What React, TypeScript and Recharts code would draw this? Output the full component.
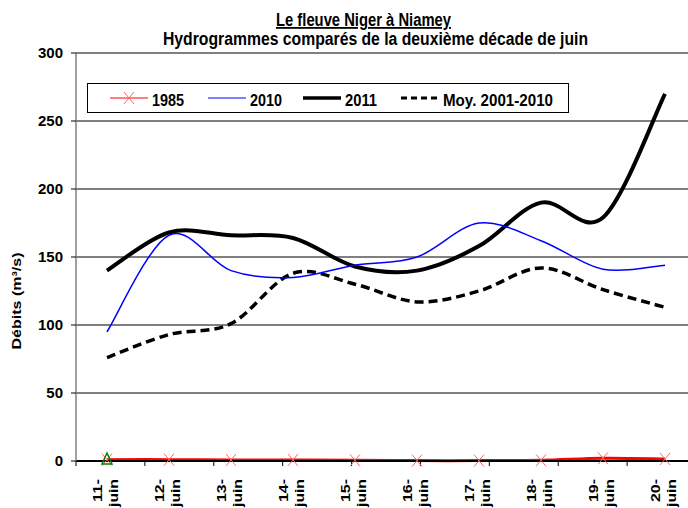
import React from 'react';
import { CartesianGrid, Legend, Line, LineChart, ReferenceLine, XAxis, YAxis } from 'recharts';

const jours = ['11-juin', '12-juin', '13-juin', '14-juin', '15-juin', '16-juin', '17-juin', '18-juin', '19-juin', '20-juin'];
const debit1985 = [1, 1, 0.8, 0.8, 0.5, 0.3, 0.3, 0.5, 2, 1.5];
const debit2010 = [95, 166, 140, 135, 144, 150, 175, 162, 141, 144];
const debit2011 = [140, 168, 166, 164, 143, 140, 158, 190, 179, 270];
const moyenne = [76, 93, 101, 138, 130, 117, 125, 142, 126, 113];
const autre = [0, null, null, null, null, null, null, null, null, null];
const yTicks = [0, 50, 100, 150, 200, 250, 300];

const donnees = jours.map((jour, i) => ({
	jour,
	a1985: debit1985[i],
	a2010: debit2010[i],
	a2011: debit2011[i],
	moy: moyenne[i],
	autre: autre[i],
}));

// limites entre jours pour les graduations de l'axe X
const bornes = jours.map((_, i) => i).concat(jours.length);

const police = 'Liberation Sans, Arial, sans-serif';

// lissage façon Excel (Catmull-Rom -> Bézier)
function courbeLissee(context: any) {
	let pts: number[][] = [];
	return {
		areaStart() {},
		areaEnd() {},
		lineStart() {
			pts = [];
		},
		point(x: number, y: number) {
			pts.push([+x, +y]);
		},
		lineEnd() {
			const n = pts.length;
			if (!n) return;
			context.moveTo(pts[0][0], pts[0][1]);
			for (let i = 0; i < n - 1; i++) {
				const p0 = pts[Math.max(i - 1, 0)];
				const p1 = pts[i];
				const p2 = pts[i + 1];
				const p3 = pts[Math.min(i + 2, n - 1)];
				context.bezierCurveTo(
					p1[0] + (p2[0] - p0[0]) / 6,
					p1[1] + (p2[1] - p0[1]) / 6,
					p2[0] - (p3[0] - p1[0]) / 6,
					p2[1] - (p3[1] - p1[1]) / 6,
					p2[0],
					p2[1],
				);
			}
		},
	};
}

function Croix(props: any) {
	const { cx, cy, index, value } = props;
	if (cy == null || value == null) return <g key={index} />;
	return (
		<path
			key={index}
			d={`M${cx - 5},${cy - 6}L${cx + 5},${cy + 6}M${cx + 5},${cy - 6}L${cx - 5},${cy + 6}`}
			stroke="#FF6666"
			strokeWidth={1}
			fill="none"
		/>
	);
}

function Triangle(props: any) {
	const { cx, cy, index, value } = props;
	if (cy == null || value == null) return <g key={index} />;
	return (
		<path
			key={index}
			d={`M${cx},${cy - 8}L${cx + 5},${cy + 3}L${cx - 5},${cy + 3}Z`}
			stroke="#008000"
			strokeWidth={1.5}
			fill="none"
		/>
	);
}

function TickJour(props: any) {
	const { x, payload } = props;
	const [num, mois] = String(payload.value).split('-');
	const style = { fontFamily: police, fontWeight: 'bold' as const, fontSize: 13 };
	return (
		<g>
			<text transform={`translate(${x - 5},479) rotate(-90)`} x={-23} style={style} textLength={23} lengthAdjust="spacingAndGlyphs">
				{num}-
			</text>
			<text transform={`translate(${x + 11},479) rotate(-90)`} x={-28} style={style} textLength={28} lengthAdjust="spacingAndGlyphs">
				{mois}
			</text>
		</g>
	);
}

const ordreLegende = ['a1985', 'a2010', 'a2011', 'moy'];
const placeLegende: Record<string, { x: number; len: number }> = {
	a1985: { x: 23, len: 32 },
	a2010: { x: 121, len: 32 },
	a2011: { x: 216, len: 32 },
	moy: { x: 314, len: 110 },
};

function Legende(props: any) {
	const items = [...(props.payload || [])]
		.filter((p: any) => ordreLegende.includes(p.dataKey))
		.sort((a: any, b: any) => ordreLegende.indexOf(a.dataKey) - ordreLegende.indexOf(b.dataKey));
	return (
		<svg width={482} height={30} style={{ display: 'block' }}>
			<rect x={0.5} y={0.5} width={481} height={29} fill="#fff" stroke="#000" strokeWidth={1} />
			{items.map((it: any) => {
				const pl = placeLegende[it.dataKey];
				const x0 = pl.x;
				const x1 = pl.x + 38;
				let trait;
				if (it.dataKey === 'a1985') {
					trait = (
						<g>
							<line x1={x0} x2={x1} y1={15} y2={15} stroke={it.color} strokeWidth={1} />
							<path d={`M${x0 + 14},${9}L${x0 + 24},${21}M${x0 + 24},${9}L${x0 + 14},${21}`} stroke="#FF6666" strokeWidth={1} />
						</g>
					);
				} else if (it.dataKey === 'a2010') {
					trait = <line x1={x0} x2={x1} y1={15} y2={15} stroke={it.color} strokeWidth={1} />;
				} else if (it.dataKey === 'a2011') {
					trait = <line x1={x0} x2={x1} y1={15} y2={15} stroke={it.color} strokeWidth={3.5} />;
				} else {
					trait = <line x1={x0} x2={x1} y1={15} y2={15} stroke={it.color} strokeWidth={3} strokeDasharray="6 4" />;
				}
				return (
					<g key={it.dataKey}>
						{trait}
						<text
							x={x1 + 4}
							y={23}
							fontFamily={police}
							fontWeight="bold"
							fontSize={17}
							textLength={pl.len}
							lengthAdjust="spacingAndGlyphs"
						>
							{it.value}
						</text>
					</g>
				);
			})}
		</svg>
	);
}

export default function App() {
	return (
		<div style={{ position: 'absolute', left: 0, top: 0, width: 688, height: 508, overflow: 'hidden', background: '#fff' }}>
			<LineChart width={720} height={508} data={donnees} margin={{ top: 53, right: 24, left: 6, bottom: 0 }}>
				<CartesianGrid vertical={false} stroke="#000" strokeWidth={1} />
				<ReferenceLine y={300} stroke="#808080" strokeWidth={1.5} />
				<XAxis
					dataKey="jour"
					interval={0}
					height={47}
					padding={{ left: 31, right: 31 }}
					tickLine={false}
					axisLine={{ stroke: '#000', strokeWidth: 2 }}
					tick={<TickJour />}
				/>
				<XAxis xAxisId="bornes" type="number" domain={[0, jours.length]} allowDataOverflow hide />
				{bornes.map((b) => (
					<ReferenceLine
						key={b}
						xAxisId="bornes"
						segment={[
							{ x: b, y: 0 },
							{ x: b, y: -3.7 },
						]}
						ifOverflow="visible"
						stroke="#000"
						strokeWidth={1}
					/>
				))}
				<YAxis
					width={70}
					domain={[0, 300]}
					ticks={yTicks}
					interval={0}
					tickSize={5}
					tickMargin={8}
					tickLine={{ stroke: '#000' }}
					axisLine={{ stroke: '#808080', strokeWidth: 1.5 }}
					tick={{ fill: '#000', fontSize: 15, fontWeight: 'bold', fontFamily: police }}
				/>
				<Legend
					layout="vertical"
					align="center"
					verticalAlign="middle"
					wrapperStyle={{ left: 87, top: 83, width: 482, height: 30 }}
					content={<Legende />}
				/>
				<Line
					dataKey="moy"
					name="Moy. 2001-2010"
					type={courbeLissee as any}
					stroke="#000"
					strokeWidth={3.5}
					strokeDasharray="9 5"
					dot={false}
					activeDot={false}
					isAnimationActive={false}
				/>
				<Line
					dataKey="a2011"
					name="2011"
					type={courbeLissee as any}
					stroke="#000"
					strokeWidth={4}
					dot={false}
					activeDot={false}
					isAnimationActive={false}
				/>
				<Line
					dataKey="a2010"
					name="2010"
					type={courbeLissee as any}
					stroke="#0000FF"
					strokeWidth={1.5}
					dot={false}
					activeDot={false}
					isAnimationActive={false}
				/>
				<Line
					dataKey="a1985"
					name="1985"
					type={courbeLissee as any}
					stroke="#FF0000"
					strokeWidth={3}
					dot={Croix}
					activeDot={false}
					isAnimationActive={false}
				/>
				<Line
					dataKey="autre"
					name="autre"
					legendType="none"
					stroke="none"
					dot={Triangle}
					activeDot={false}
					isAnimationActive={false}
				/>
			</LineChart>
			<svg width={688} height={508} style={{ position: 'absolute', left: 0, top: 0, pointerEvents: 'none' }}>
				<text
					x={276}
					y={26}
					fontFamily={police}
					fontWeight="bold"
					fontSize={18}
					textDecoration="underline"
					textLength={175}
					lengthAdjust="spacingAndGlyphs"
				>
					Le fleuve Niger à Niamey
				</text>
				<text x={163} y={45} fontFamily={police} fontWeight="bold" fontSize={18} textLength={425} lengthAdjust="spacingAndGlyphs">
					Hydrogrammes comparés de la deuxième décade de juin
				</text>
				<text
					transform="translate(21,301) rotate(-90)"
					x={-48.5}
					fontFamily={police}
					fontWeight="bold"
					fontSize={12}
					textLength={97}
					lengthAdjust="spacingAndGlyphs"
				>
					Débits (m³/s)
				</text>
			</svg>
		</div>
	);
}
